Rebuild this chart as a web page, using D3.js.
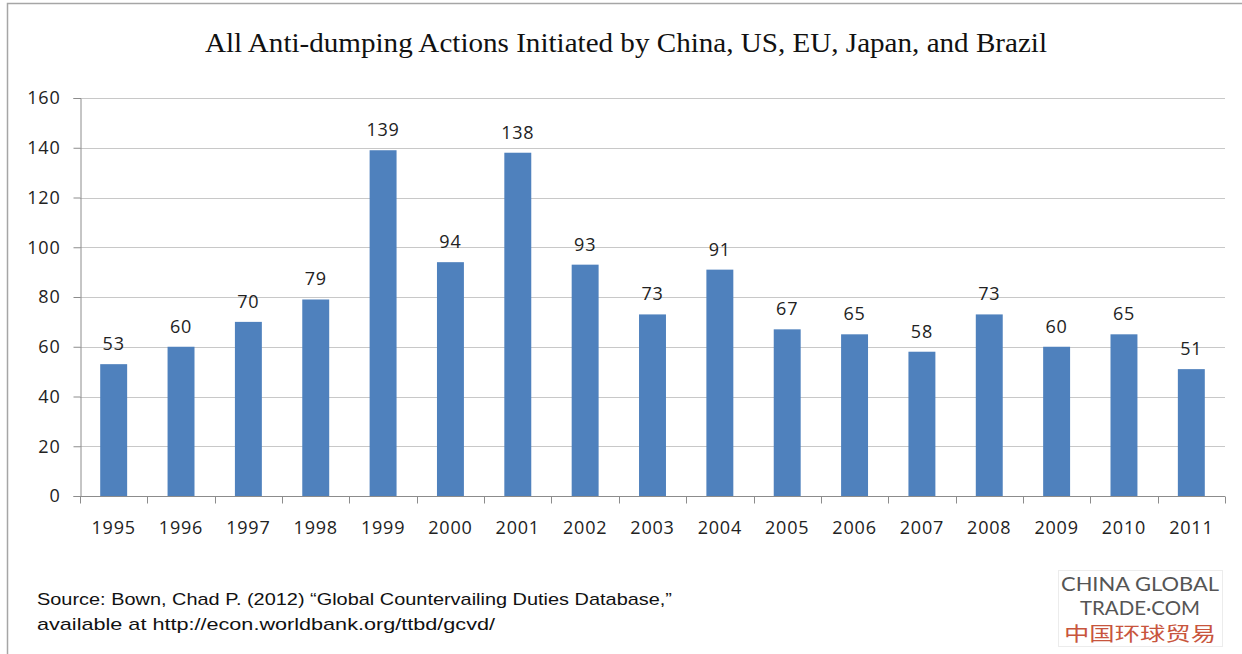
<!DOCTYPE html>
<html>
<head>
<meta charset="utf-8">
<script src="https://cdn.jsdelivr.net/npm/d3@7"></script>
<style>
  html, body { margin: 0; padding: 0; background: #fff; }
  svg { display: block; }
</style>
</head>
<body>
<svg id="chart" width="1242" height="654"></svg>
<script>
// Anti-dumping actions initiated per year
const years = ["1995","1996","1997","1998","1999","2000","2001","2002","2003","2004","2005","2006","2007","2008","2009","2010","2011"];
const actions = [53, 60, 70, 79, 139, 94, 138, 93, 73, 91, 67, 65, 58, 73, 60, 65, 51];
const yTicks = [0, 20, 40, 60, 80, 100, 120, 140, 160];
const titleText = "All Anti-dumping Actions Initiated by China, US, EU, Japan, and Brazil";
const sourceLines = [
  "Source:  Bown, Chad P. (2012) \u201cGlobal Countervailing Duties Database,\u201d",
  "available at http://econ.worldbank.org/ttbd/gcvd/"
];
const logoLines = ["CHINA GLOBAL", "TRADE\u00b7COM", "中国环球贸易"];

const svg = d3.select("#chart");
const margin = { left: 80, right: 1225, top: 98, bottom: 496 };
const labelFont = "Open Sans, Liberation Sans, sans-serif";

// frame
svg.append("path")
  .attr("d", "M7.5,654 V3.5 H1242")
  .attr("fill", "none").attr("stroke", "#a6a6a6").attr("stroke-width", 1.5);

const x = d3.scaleBand().domain(years).range([margin.left, margin.right]).paddingInner(0.6).paddingOuter(0.3);
const xOuter = d3.scaleBand().domain(years).range([margin.left, margin.right]);
const y = d3.scaleLinear().domain([0, 160]).range([margin.bottom, margin.top]);

// title
svg.append("text")
  .attr("x", 626).attr("y", 52)
  .attr("text-anchor", "middle")
  .attr("font-family", "Liberation Serif, serif")
  .attr("font-size", 27)
  .attr("fill", "#111")
  .attr("textLength", 842).attr("lengthAdjust", "spacingAndGlyphs")
  .text(titleText);

// gridlines
svg.append("g").selectAll("line").data(yTicks.filter(d => d > 0)).join("line")
  .attr("x1", margin.left).attr("x2", margin.right)
  .attr("y1", d => Math.round(y(d)) + 0.5).attr("y2", d => Math.round(y(d)) + 0.5)
  .attr("stroke", "#c8c8c8").attr("stroke-width", 1.2);

// y axis
const yAxis = svg.append("g")
  .attr("transform", `translate(${margin.left + 0.5},0)`)
  .call(d3.axisLeft(y).tickValues(yTicks).tickSize(7).tickPadding(13));
yAxis.select(".domain").attr("stroke", "#8c8c8c");
yAxis.selectAll(".tick line").attr("stroke", "#8c8c8c");
yAxis.selectAll(".tick text")
  .attr("font-family", labelFont)
  .attr("font-size", 18).attr("letter-spacing", 0.8).attr("fill", "#222");

// x axis
const xAxisG = svg.append("g").attr("transform", `translate(0,${margin.bottom + 0.5})`);
xAxisG.append("line").attr("x1", margin.left).attr("x2", margin.right)
  .attr("stroke", "#8c8c8c");
xAxisG.selectAll("line.tk").data(years.concat(["end"])).join("line")
  .attr("class", "tk")
  .attr("x1", (d, i) => Math.round(margin.left + i * xOuter.step()) + 0.5)
  .attr("x2", (d, i) => Math.round(margin.left + i * xOuter.step()) + 0.5)
  .attr("y1", 0).attr("y2", 7).attr("stroke", "#8c8c8c");
xAxisG.selectAll("text").data(years).join("text")
  .attr("x", d => xOuter(d) + xOuter.bandwidth() / 2)
  .attr("y", 37)
  .attr("text-anchor", "middle")
  .attr("font-family", labelFont)
  .attr("font-size", 18).attr("letter-spacing", 0.8).attr("fill", "#222")
  .text(d => d);

// bars
svg.append("g").selectAll("rect").data(actions).join("rect")
  .attr("x", (d, i) => x(years[i]))
  .attr("width", x.bandwidth())
  .attr("y", d => y(d))
  .attr("height", d => y(0) - y(d))
  .attr("fill", "#4f81bd");

// value labels
svg.append("g").selectAll("text").data(actions).join("text")
  .attr("x", (d, i) => x(years[i]) + x.bandwidth() / 2)
  .attr("y", d => y(d) - 14)
  .attr("text-anchor", "middle")
  .attr("font-family", labelFont)
  .attr("font-size", 18).attr("letter-spacing", 0.8).attr("fill", "#222")
  .text(d => d);

// source note
svg.append("g").selectAll("text").data(sourceLines).join("text")
  .attr("x", 37).attr("y", (d, i) => 605 + i * 25)
  .attr("font-family", "Liberation Sans Narrow, Liberation Sans, sans-serif")
  .attr("font-size", 17).attr("fill", "#111")
  .attr("textLength", (d, i) => i === 0 ? 635 : 458)
  .attr("lengthAdjust", "spacingAndGlyphs")
  .text(d => d);

// logo
const logo = svg.append("g");
logo.append("rect").attr("x", 1058.5).attr("y", 570.5).attr("width", 164).attr("height", 76)
  .attr("fill", "#fff").attr("stroke", "#ececec");
logo.selectAll("text").data(logoLines).join("text")
  .attr("x", 1140).attr("y", (d, i) => [591, 615, 641][i])
  .attr("text-anchor", "middle")
  .attr("font-family", (d, i) => i === 2 ? "Noto Sans CJK SC, sans-serif" : "Lato, Liberation Sans, sans-serif")
  .attr("font-size", (d, i) => i === 2 ? 19 : 20)
  .attr("fill", (d, i) => i === 2 ? "#c8553d" : "#555")
  .attr("textLength", (d, i) => [158, 120, 152][i])
  .attr("lengthAdjust", "spacingAndGlyphs")
  .text(d => d);
</script>
</body>
</html>
